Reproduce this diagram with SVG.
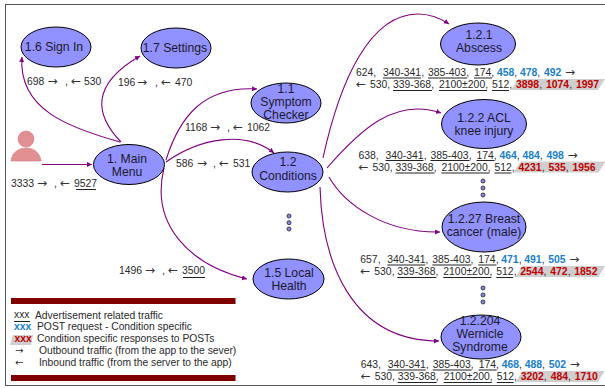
<svg xmlns="http://www.w3.org/2000/svg" width="605" height="388" viewBox="0 0 605 388">
<style>
text{font-family:"Liberation Sans",Arial,sans-serif;font-size:10.4px;fill:#2a2a2a}
.n ellipse{fill:#9191ff;stroke:#000;stroke-width:1}
.n text{font-size:12.2px;text-anchor:middle;fill:#1a1a2a}
.c{fill:none;stroke:#800080;stroke-width:1.1}
.u{stroke:#222;stroke-width:1;fill:none}
.b{font-weight:bold;fill:#1a7fc8}
.r{font-weight:bold;fill:#c00000}
.g{fill:#cfcfcf}
.ar{font-family:"DejaVu Sans",sans-serif;font-size:12px;fill:#333}
.d circle{fill:#8585e8;stroke:#222;stroke-width:.8}
.bar{fill:#800000}
.lg{font-size:10.3px}
text.la{font-family:"DejaVu Sans",sans-serif;font-size:10px;fill:#333}
</style>
<defs>
<marker id="a" markerWidth="6" markerHeight="6" refX="5" refY="2.5" orient="auto" markerUnits="userSpaceOnUse"><path d="M0 0L5 2.5L0 5z" fill="#800080"/></marker>
<g id="ul"><path class="u" d="M383 78H421M428 78H467M474 78H492M393 90.500H432M439 90.500H487M492 90.500H509"/></g>
</defs>
<rect x="5.500" y="4.500" width="605" height="381" fill="#fff" stroke="#555" stroke-width="1"/>
<g id="connectors">
<path class="c" marker-end="url(#a)" d="M42 164.500H92"/>
<path class="c" marker-end="url(#a)" d="M120 142C70 128 18 110 22 57"/>
<path class="c" marker-end="url(#a)" d="M121 142C95 115 90 85 140 56"/>
<path class="c" marker-end="url(#a)" d="M166 160C180 115 205 86 257 89"/>
<path class="c" marker-end="url(#a)" d="M166 162C200 138 245 130 274 153"/>
<path class="c" marker-end="url(#a)" d="M164 168C150 225 190 265 247 279"/>
<path class="c" marker-end="url(#a)" d="M323 158C340 80 370 14 418 14C430 14 440 18 449 24"/>
<path class="c" marker-end="url(#a)" d="M327 168C360 130 395 97 441 113"/>
<path class="c" marker-end="url(#a)" d="M329 177C345 205 385 233 440 232"/>
<path class="c" marker-end="url(#a)" d="M320 187C322 260 350 341 439 341"/>
</g>
<g id="user">
<circle cx="26" cy="139" r="8" fill="#e09090" stroke="#d07a8a" stroke-width=".6"/>
<path d="M11 161C12 152 19 148 26 148C33 148 40 152 41 161z" fill="#e09090" stroke="#d07a8a" stroke-width=".6"/>
</g>
<g id="n1-6" class="n"><ellipse cx="56" cy="47" rx="35" ry="20"/><text x="54" y="51">1.6 Sign In</text></g>
<g id="n1-7" class="n"><ellipse cx="176" cy="48" rx="35" ry="20"/><text x="175" y="52">1.7 Settings</text></g>
<g id="n1" class="n"><ellipse cx="129" cy="164.500" rx="35.500" ry="20"/><text x="127" y="163">1. Main</text><text x="127" y="176">Menu</text></g>
<g id="n1-1" class="n"><ellipse cx="286" cy="103" rx="35" ry="20"/><text x="286" y="93">1.1</text><text x="286" y="106">Symptom</text><text x="286" y="119">Checker</text></g>
<g id="n1-2" class="n"><ellipse cx="287.500" cy="172" rx="35.500" ry="20"/><text x="288" y="166">1.2</text><text x="288" y="180">Conditions</text></g>
<g id="n1-5" class="n"><ellipse cx="288.500" cy="279" rx="35.500" ry="20"/><text x="289" y="277">1.5 Local</text><text x="289" y="290">Health</text></g>
<g id="n1-2-1" class="n"><ellipse cx="478" cy="44" rx="37.500" ry="21"/><text x="479" y="39">1.2.1</text><text x="479" y="52">Abscess</text></g>
<g id="n1-2-2" class="n"><ellipse cx="484" cy="124" rx="42.500" ry="24.500"/><text x="484" y="122">1.2.2 ACL</text><text x="484" y="135">knee injury</text></g>
<g id="n1-2-27" class="n"><ellipse cx="484" cy="227" rx="42" ry="25"/><text x="484" y="223">1.2.27 Breast</text><text x="484" y="236">cancer (male)</text></g>
<g id="n1-2-204" class="n"><ellipse cx="481" cy="337" rx="40" ry="22"/><text x="480" y="325">1.2.204</text><text x="480" y="338">Wernicle</text><text x="480" y="351">Syndrome</text></g>
<g id="dots" class="d">
<circle cx="289" cy="216" r="2"/><circle cx="289" cy="222.700" r="2"/><circle cx="289" cy="229" r="2"/>
<circle cx="483" cy="181" r="2"/><circle cx="483" cy="188" r="2"/><circle cx="483" cy="195" r="2"/>
<circle cx="483" cy="288" r="2"/><circle cx="483" cy="295" r="2"/><circle cx="483" cy="302" r="2"/>
</g>
<g id="edge-labels">
<text x="27" y="84.500">698 <tspan x="47.500" class="ar">→</tspan><tspan x="65">,</tspan><tspan x="71" class="ar">←</tspan><tspan x="84">530</tspan></text>
<text x="118" y="85.500">196 <tspan x="137" class="ar">→</tspan><tspan x="155">,</tspan><tspan x="161" class="ar">←</tspan><tspan x="175">470</tspan></text>
<text x="185" y="131">1168 <tspan x="210" class="ar">→</tspan><tspan x="227">,</tspan><tspan x="233" class="ar">←</tspan><tspan x="247">1062</tspan></text>
<text x="176" y="167">586 <tspan x="197" class="ar">→</tspan><tspan x="213">,</tspan><tspan x="219" class="ar">←</tspan><tspan x="233">531</tspan></text>
<text x="11" y="187">3333 <tspan x="37" class="ar">→</tspan><tspan x="54">,</tspan><tspan x="60" class="ar">←</tspan><tspan x="74">9527</tspan></text>
<path class="u" d="M76 189.500H96"/>
<text x="119" y="274">1496 <tspan x="145" class="ar">→</tspan><tspan x="162">,</tspan><tspan x="168" class="ar">←</tspan><tspan x="182">3500</tspan></text>
<path class="u" d="M183 277.500H205"/>
</g>
<g id="block1">
<path class="g" d="M518 79H605L598 90H511z"/>
<use href="#ul"/>
<text x="356" y="76">624,<tspan x="383">340-341</tspan>,<tspan x="428">385-403</tspan>,<tspan x="474">174</tspan>,<tspan x="497" class="b">458</tspan>,<tspan x="520" class="b">478</tspan>,<tspan x="544" class="b">492</tspan><tspan x="565" class="ar">→</tspan></text>
<text x="356" y="88"><tspan class="ar">←</tspan><tspan x="370">530</tspan>,<tspan x="393">339-368</tspan>,<tspan x="439">2100±200</tspan>,<tspan x="492">512</tspan>,<tspan x="516" class="r">3898</tspan>,<tspan x="546" class="r">1074</tspan>,<tspan x="576" class="r">1997</tspan></text>
</g>
<g id="block2" transform="translate(2.500 82.500)">
<path class="g" d="M518 79H603L596 90H511z"/>
<use href="#ul"/>
<text x="356" y="76">638,<tspan x="383">340-341</tspan>,<tspan x="428">385-403</tspan>,<tspan x="474">174</tspan>,<tspan x="497" class="b">464</tspan>,<tspan x="520" class="b">484</tspan>,<tspan x="544" class="b">498</tspan><tspan x="565" class="ar">→</tspan></text>
<text x="356" y="88"><tspan class="ar">←</tspan><tspan x="370">530</tspan>,<tspan x="393">339-368</tspan>,<tspan x="439">2100±200</tspan>,<tspan x="492">512</tspan>,<tspan x="516" class="r">4231</tspan>,<tspan x="546" class="r">535</tspan>,<tspan x="570" class="r">1956</tspan></text>
</g>
<g id="block3" transform="translate(4.300 187)">
<path class="g" d="M518 79H601L594 90H511z"/>
<use href="#ul"/>
<text x="356" y="76">657,<tspan x="383">340-341</tspan>,<tspan x="428">385-403</tspan>,<tspan x="474">174</tspan>,<tspan x="497" class="b">471</tspan>,<tspan x="520" class="b">491</tspan>,<tspan x="544" class="b">505</tspan><tspan x="565" class="ar">→</tspan></text>
<text x="356" y="88"><tspan class="ar">←</tspan><tspan x="370">530</tspan>,<tspan x="393">339-368</tspan>,<tspan x="439">2100±200</tspan>,<tspan x="492">512</tspan>,<tspan x="516" class="r">2544</tspan>,<tspan x="546" class="r">472</tspan>,<tspan x="570" class="r">1852</tspan></text>
</g>
<g id="block4" transform="translate(4.700 292)">
<path class="g" d="M518 79H600L593 90H511z"/>
<use href="#ul"/>
<text x="356" y="76">643,<tspan x="383">340-341</tspan>,<tspan x="428">385-403</tspan>,<tspan x="474">174</tspan>,<tspan x="497" class="b">468</tspan>,<tspan x="520" class="b">488</tspan>,<tspan x="544" class="b">502</tspan><tspan x="565" class="ar">→</tspan></text>
<text x="356" y="88"><tspan class="ar">←</tspan><tspan x="370">530</tspan>,<tspan x="393">339-368</tspan>,<tspan x="439">2100±200</tspan>,<tspan x="492">512</tspan>,<tspan x="516" class="r">3202</tspan>,<tspan x="546" class="r">484</tspan>,<tspan x="570" class="r">1710</tspan></text>
</g>
<g id="legend">
<rect class="bar" x="11" y="298" width="224.500" height="6"/>
<rect class="bar" x="11" y="375" width="224.500" height="6"/>
<path class="u" d="M14 321.500H30"/>
<path class="g" d="M13 335H33L31 345H10z"/>
<text x="14" y="318" class="lg">xxx</text><text x="35" y="319" class="lg">Advertisement related traffic</text>
<text x="14" y="330" class="lg b">xxx</text><text x="37" y="330" class="lg">POST request - Condition specific</text>
<text x="14.500" y="342" class="lg r">xxx</text><text x="37" y="342" class="lg">Condition specific responses to POSTs</text>
<text x="15" y="354" class="la">→</text><text x="39" y="354" class="lg">Outbound traffic (from the app to the sever)</text>
<text x="15" y="366" class="la">←</text><text x="39" y="366" class="lg">Inbound traffic (from the server to the app)</text>
</g>
</svg>
